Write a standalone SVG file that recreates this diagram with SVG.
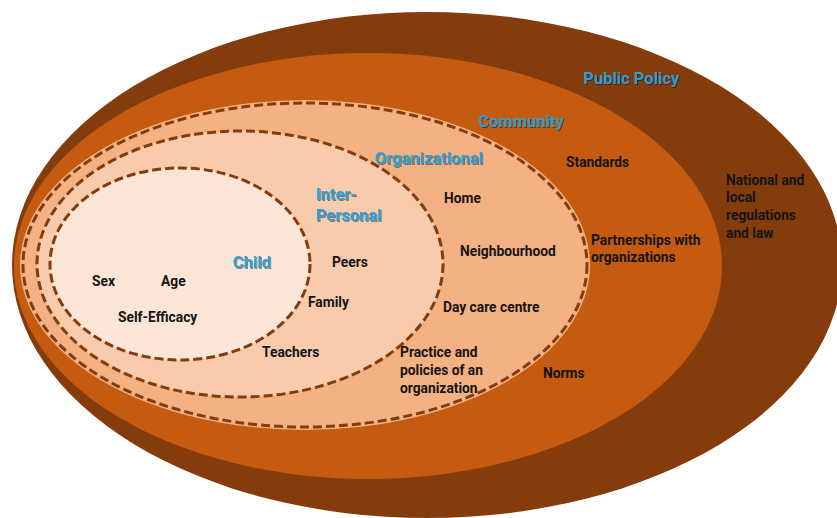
<svg xmlns="http://www.w3.org/2000/svg" width="837" height="518" viewBox="0 0 837 518">
<style>
.lbl{font-family:Roboto,"Liberation Sans",sans-serif;font-weight:bold;font-size:16.5px;fill:#2f9fd4;filter:url(#sh)}
.t{font-family:Roboto,"Liberation Sans",sans-serif;font-weight:bold;font-size:13.8px;fill:#141414}
.dash{stroke:#843c0c;stroke-width:3;stroke-dasharray:9 4}
</style>
<defs>
<filter id="sh" x="-10%" y="-30%" width="130%" height="170%">
<feDropShadow dx="1" dy="1" stdDeviation="0.6" flood-color="#000" flood-opacity="0.45"/>
</filter>
</defs>
<rect width="837" height="518" fill="#fff"/>
<g id="public-policy">
<ellipse cx="427" cy="265" rx="415" ry="253" fill="#843c0c"/>
<text class="lbl" x="583" y="84">Public Policy</text>
<text class="t" x="726" y="185">National and</text>
<text class="t" x="726" y="202">local</text>
<text class="t" x="726" y="220">regulations</text>
<text class="t" x="726" y="238">and law</text>
</g>
<g id="community">
<ellipse cx="368" cy="266" rx="354" ry="213" fill="#c55a11"/>
<text class="lbl" x="478" y="127">Community</text>
<text class="t" x="566" y="167">Standards</text>
<text class="t" x="591" y="245">Partnerships with</text>
<text class="t" x="591" y="262">organizations</text>
<text class="t" x="543" y="378">Norms</text>
</g>
<g id="organizational">
<ellipse cx="305" cy="265" rx="285" ry="165" fill="#f4b183"/>
<ellipse cx="305" cy="265" rx="282" ry="162" fill="none" class="dash"/>
<text class="lbl" x="375" y="164">Organizational</text>
<text class="t" x="444" y="203">Home</text>
<text class="t" x="460" y="256">Neighbourhood</text>
<text class="t" x="443" y="312">Day care centre</text>
<text class="t" x="400" y="357">Practice and</text>
<text class="t" x="400" y="375">policies of an</text>
<text class="t" x="400" y="393">organization</text>
</g>
<g id="inter-personal">
<ellipse cx="240" cy="264" rx="203" ry="133" fill="#f8cbad" class="dash"/>
<text class="lbl" x="316" y="200">Inter-</text>
<text class="lbl" x="316" y="221">Personal</text>
<text class="t" x="332" y="267">Peers</text>
<text class="t" x="308" y="307">Family</text>
<text class="t" x="262" y="357">Teachers</text>
</g>
<g id="child">
<ellipse cx="180" cy="264" rx="130" ry="96" fill="#fbe5d6" class="dash"/>
<text class="lbl" x="233" y="268">Child</text>
<text class="t" x="92" y="286">Sex</text>
<text class="t" x="161" y="286">Age</text>
<text class="t" x="118" y="322">Self-Efficacy</text>
</g>
<g id="connectors"/>
</svg>
